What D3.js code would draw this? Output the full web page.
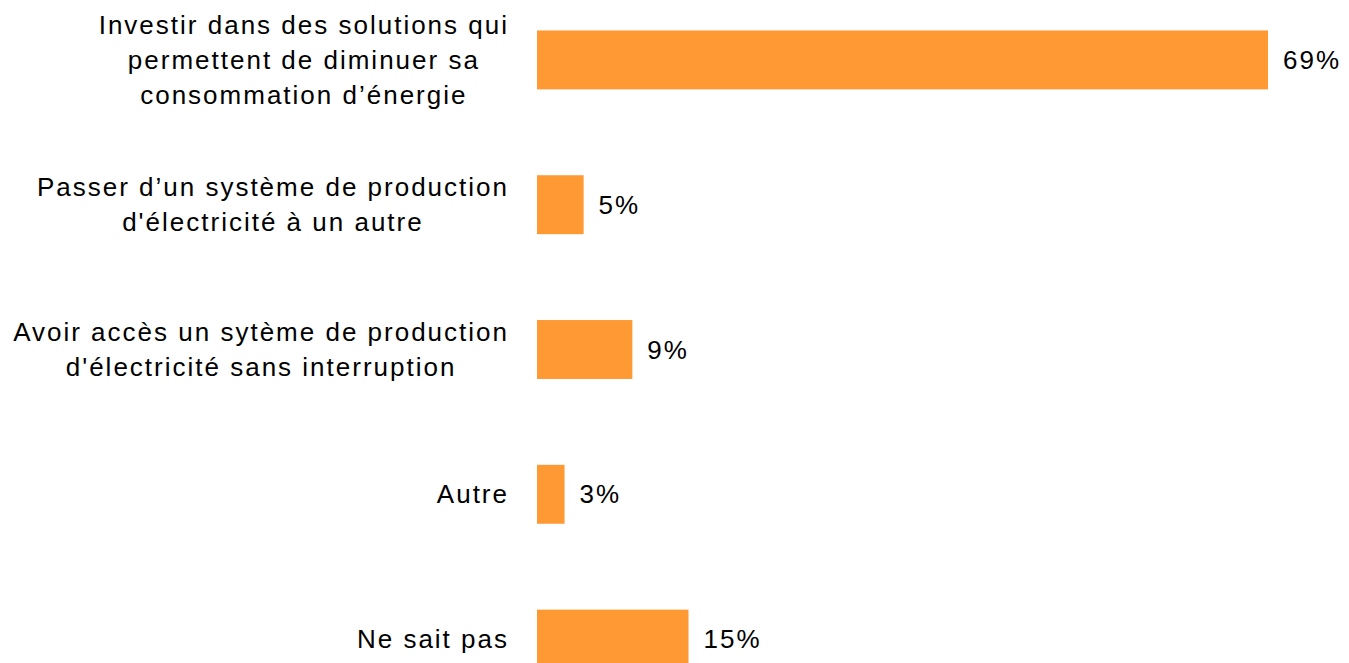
<!DOCTYPE html>
<html>
<head>
<meta charset="utf-8">
<script src="https://cdn.jsdelivr.net/npm/d3@7"></script>
<style>
  html, body { margin: 0; padding: 0; background: #fff; overflow: hidden; }
  svg text { font-family: "Liberation Sans", Arial, sans-serif; fill: #000; letter-spacing: 2px; }
</style>
</head>
<body>
<svg id="chart"></svg>
<script>
// categories, one array of lines per bar
const categories = [
    ["Investir dans des solutions qui", "permettent de diminuer sa", "consommation d\u2019énergie"],
    ["Passer d\u2019un système de production", "d'électricité à un autre"],
    ["Avoir accès un sytème de production", "d'électricité sans interruption"],
    ["Autre"],
    ["Ne sait pas"]
];
// bar lengths
const values = [69, 4.4, 9, 2.6, 14.3];
const valueLabels = ["69%", "5%", "9%", "3%", "15%"];

const width = 1349, height = 663;
const margin = {left: 537};
const labelRight = 509;

let svg = d3.select('#chart')
    .attr('width', width)
    .attr('height', height);

let xScale = d3.scaleLinear()
    .domain([0, 69])
    .range([margin.left, margin.left + 731]);

let yScale = d3.scaleBand()
    .domain(d3.range(values.length))
    .range([-13, 712])
    .paddingInner(0.593)
    .paddingOuter(0.3);

let rows = svg.selectAll('g.row')
    .data(values)
    .enter()
    .append('g')
    .attr('class', 'row');

rows.append('rect')
    .attr('x', xScale(0))
    .attr('y', (d, i) => yScale(i))
    .attr('width', d => xScale(d) - xScale(0))
    .attr('height', yScale.bandwidth())
    .attr('fill', '#FF9933');

rows.append('text')
    .attr('x', d => xScale(d) + 15)
    .attr('y', (d, i) => yScale(i) + yScale.bandwidth() / 2)
    .attr('dy', '0.35em')
    .attr('font-size', 26)
    .text((d, i) => valueLabels[i]);

// category labels: block right-aligned, lines centred inside the block
let lineH = 35;
rows.append('text')
    .attr('text-anchor', 'middle')
    .attr('font-size', 26)
    .each(function (d, i) {
        let lines = categories[i];
        let cy = yScale(i) + yScale.bandwidth() / 2;
        let t = d3.select(this);
        let spans = lines.map((ln, k) => t.append('tspan')
            .attr('y', cy + (k - (lines.length - 1) / 2) * lineH)
            .attr('dy', '0.35em')
            .text(ln));
        let maxW = d3.max(spans, s => s.node().getComputedTextLength());
        spans.forEach(s => s.attr('x', labelRight - maxW / 2));
    });
</script>
</body>
</html>
